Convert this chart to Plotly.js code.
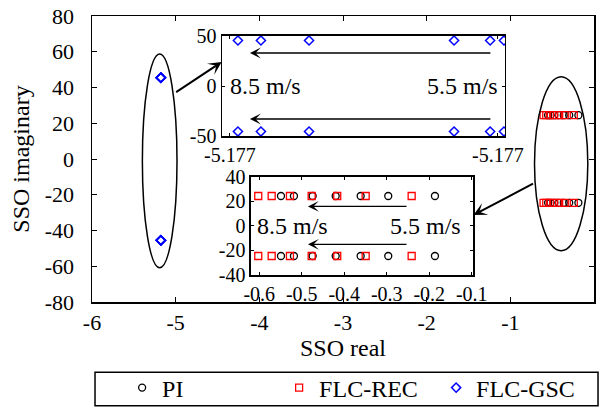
<!DOCTYPE html>
<html>
<head>
<meta charset="utf-8">
<script src="https://cdn.plot.ly/plotly-3.0.1.min.js"></script>
<style>html,body{margin:0;padding:0;background:#fff;}#chart{width:599px;height:409px;}</style>
</head>
<body>
<div id="chart"></div>
<script>
// ---- data ----
const piReal  = [-0.5489, -0.5184, -0.4744, -0.4202, -0.3614, -0.2965, -0.1866,
                 -0.5489, -0.5184, -0.4744, -0.4202, -0.3614, -0.2965, -0.1866];
const piImag  = [24.5, 24.5, 24.5, 24.5, 24.5, 24.5, 24.5,
                 -24.5, -24.5, -24.5, -24.5, -24.5, -24.5, -24.5];
const recReal = [-0.6024, -0.5708, -0.5278, -0.4767, -0.4165, -0.3496, -0.2414,
                 -0.6024, -0.5708, -0.5278, -0.4767, -0.4165, -0.3496, -0.2414];
const recImag = [24.5, 24.5, 24.5, 24.5, 24.5, 24.5, 24.5,
                 -24.5, -24.5, -24.5, -24.5, -24.5, -24.5, -24.5];
const gscReal = [-5.177355, -5.17729, -5.177154, -5.176744, -5.176642, -5.176603,
                 -5.177355, -5.17729, -5.177154, -5.176744, -5.176642, -5.176603];
const gscImag = [45.5, 45.5, 45.5, 45.5, 45.5, 45.5,
                 -45.5, -45.5, -45.5, -45.5, -45.5, -45.5];
const seriesNames = ['PI', 'FLC-REC', 'FLC-GSC'];
const mainXTicks = [-6, -5, -4, -3, -2, -1, 0];
const mainYTicks = [-80, -60, -40, -20, 0, 20, 40, 60, 80];
const inset1YTicks = [-50, 0, 50];
const inset1XTickVals = [-5.177378, -5.17662];
const inset1XTickText = ['-5.177', '-5.177'];
const inset2XTicks = [-0.6, -0.5, -0.4, -0.3, -0.2, -0.1];
const inset2YTicks = [-40, -20, 0, 20, 40];
const speedLabels = ['8.5 m/s', '5.5 m/s'];

const FONT = '"Liberation Serif", "Times New Roman", Times, serif';
const piStyle  = {symbol: 'circle-open',  size: 7, color: '#000000', line: {width: 1.3, color: '#000000'}};
const recStyle = {symbol: 'square-open',  size: 7, color: '#ff0000', line: {width: 1.3, color: '#ff0000'}};
const gscStyle = {symbol: 'diamond-open', size: 7, color: '#0000ff', line: {width: 1.5, color: '#0000ff'}};

const traces = [
  {x: piReal,  y: piImag,  mode: 'markers', name: seriesNames[0], marker: piStyle,  xaxis: 'x', yaxis: 'y'},
  {x: recReal, y: recImag, mode: 'markers', name: seriesNames[1], marker: recStyle, xaxis: 'x', yaxis: 'y'},
  {x: gscReal, y: gscImag, mode: 'markers', name: seriesNames[2], marker: gscStyle, xaxis: 'x', yaxis: 'y'},
  {x: gscReal, y: gscImag, mode: 'markers', showlegend: false, marker: gscStyle, xaxis: 'x2', yaxis: 'y2'},
  {x: piReal,  y: piImag,  mode: 'markers', showlegend: false, marker: piStyle,  xaxis: 'x3', yaxis: 'y3'},
  {x: recReal, y: recImag, mode: 'markers', showlegend: false, marker: recStyle, xaxis: 'x3', yaxis: 'y3'}
];

const axBase = {
  showgrid: false, zeroline: false, showline: true, linecolor: '#000', linewidth: 1.5,
  mirror: 'allticks', ticks: 'inside', ticklen: 5, tickwidth: 1, tickcolor: '#000',
  automargin: false
};
const txt = arr => arr.map(String);

const layout = {
  width: 599, height: 409,
  margin: {l: 92, r: 5, t: 16, b: 107},
  paper_bgcolor: '#fff', plot_bgcolor: '#fff',
  font: {family: FONT, color: '#000', size: 21},
  showlegend: true,
  legend: {
    orientation: 'h', x: 0.06, xanchor: 'left',
    yref: 'container', y: 0.0513, yanchor: 'middle',
    font: {family: FONT, size: 24, color: '#000'}, entrywidth: 112,
    bgcolor: 'rgba(0,0,0,0)', borderwidth: 0
  },
  xaxis: Object.assign({}, axBase, {
    range: [-6, 0], tickvals: mainXTicks, ticktext: txt(mainXTicks), ticklabelstandoff: 0,
    tickfont: {size: 22}, domain: [0, 1],
    title: {text: 'SSO real', font: {size: 24}, standoff: 0}
  }),
  yaxis: Object.assign({}, axBase, {
    range: [-80, 80], tickvals: mainYTicks, ticktext: txt(mainYTicks), ticklabelstandoff: 12,
    tickfont: {size: 22}, domain: [0, 1],
    title: {text: 'SSO imaginary', font: {size: 24}, standoff: 8}
  }),
  xaxis2: Object.assign({}, axBase, {
    anchor: 'y2', domain: [0.259, 0.8227], range: [-5.1774, -5.1766],
    tickvals: inset1XTickVals, ticktext: inset1XTickText, ticklen: 3,
    tickfont: {size: 20}, ticklabelstandoff: 0
  }),
  yaxis2: Object.assign({}, axBase, {
    anchor: 'x2', domain: [0.5804, 0.9301], range: [-50, 50],
    tickvals: inset1YTicks, ticktext: txt(inset1YTicks), ticklen: 3, tickfont: {size: 20}, ticklabelstandoff: 0
  }),
  xaxis3: Object.assign({}, axBase, {
    anchor: 'y3', domain: [0.3167, 0.759], range: [-0.6195, -0.097],
    tickvals: inset2XTicks, ticktext: txt(inset2XTicks), ticklen: 3,
    tickfont: {size: 20}, ticklabelstandoff: 0
  }),
  yaxis3: Object.assign({}, axBase, {
    anchor: 'x3', domain: [0.0944, 0.4371], range: [-40, 40],
    tickvals: inset2YTicks, ticktext: txt(inset2YTicks), ticklen: 3, tickfont: {size: 20}, ticklabelstandoff: 0
  }),
  shapes: [
    {type: 'circle', xref: 'x', yref: 'y', x0: -5.398, x1: -4.984, y0: -60.8, y1: 58.7,
     line: {color: '#000', width: 1.5}},
    {type: 'circle', xref: 'x', yref: 'y', x0: -0.711, x1: -0.074, y0: -51.3, y1: 46.0,
     line: {color: '#000', width: 1.5}},
    {type: 'rect', xref: 'paper', yref: 'paper', x0: 0.006, x1: 1.008, y0: -0.3626, y1: -0.2458,
     line: {color: '#000', width: 1.5}, fillcolor: 'rgba(0,0,0,0)'}
  ],
  annotations: [
    {xref: 'x', yref: 'y', axref: 'x', ayref: 'y', x: -4.4504, y: 54.3, ax: -5.012, ay: 36.9,
     text: '', showarrow: true, arrowhead: 3, arrowwidth: 2, arrowsize: 1.1, arrowcolor: '#000'},
    {xref: 'x', yref: 'y', axref: 'x', ayref: 'y', x: -1.440, y: -31.3, ax: -0.711, ay: -13.4,
     text: '', showarrow: true, arrowhead: 3, arrowwidth: 2, arrowsize: 1.1, arrowcolor: '#000'},
    {xref: 'x2', yref: 'y2', axref: 'x2', ayref: 'y2', x: -5.177321, y: 33, ax: -5.176637, ay: 33,
     text: '', showarrow: true, arrowhead: 3, arrowwidth: 1.3, arrowsize: 1.4, arrowcolor: '#000'},
    {xref: 'x2', yref: 'y2', axref: 'x2', ayref: 'y2', x: -5.177321, y: -33, ax: -5.176637, ay: -33,
     text: '', showarrow: true, arrowhead: 3, arrowwidth: 1.3, arrowsize: 1.4, arrowcolor: '#000'},
    {xref: 'x2', yref: 'y2', x: -5.177383, y: 0, xanchor: 'left', yanchor: 'middle', showarrow: false,
     text: speedLabels[0], font: {size: 24}},
    {xref: 'x2', yref: 'y2', x: -5.176614, y: 0, xanchor: 'right', yanchor: 'middle', showarrow: false,
     text: speedLabels[1], font: {size: 24}},
    {xref: 'x3', yref: 'y3', axref: 'x3', ayref: 'y3', x: -0.4854, y: 16, ax: -0.250, ay: 16,
     text: '', showarrow: true, arrowhead: 3, arrowwidth: 1.3, arrowsize: 1.4, arrowcolor: '#000'},
    {xref: 'x3', yref: 'y3', axref: 'x3', ayref: 'y3', x: -0.4854, y: -15, ax: -0.250, ay: -15,
     text: '', showarrow: true, arrowhead: 3, arrowwidth: 1.3, arrowsize: 1.4, arrowcolor: '#000'},
    {xref: 'x3', yref: 'y3', x: -0.610, y: 0, xanchor: 'left', yanchor: 'middle', showarrow: false,
     text: speedLabels[0], font: {size: 24}},
    {xref: 'x3', yref: 'y3', x: -0.1207, y: 0, xanchor: 'right', yanchor: 'middle', showarrow: false,
     text: speedLabels[1], font: {size: 24}}
  ]
};

Plotly.newPlot('chart', traces, layout, {staticPlot: true, displayModeBar: false});
</script>
</body>
</html>
